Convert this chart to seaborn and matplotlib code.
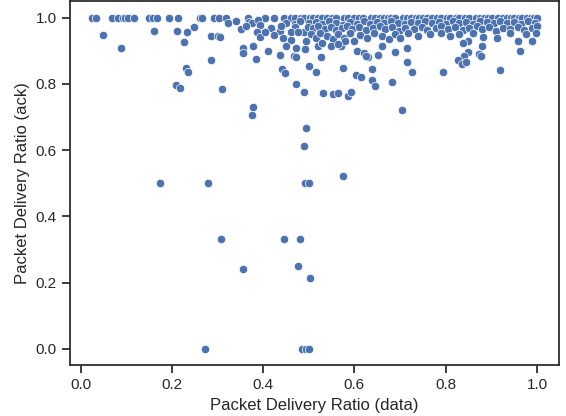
import pandas as pd
import seaborn as sns
import matplotlib.pyplot as plt

# Values (estimated)
# top row, ack ratio = 1.0
top_x = [0.026, 0.033, 0.068, 0.083, 0.092, 0.098, 0.105, 0.118, 0.151, 0.159,
         0.168, 0.194, 0.214, 0.262, 0.267, 0.293, 0.304, 0.318, 0.366, 0.405,
         0.423, 0.445, 0.461, 0.470, 0.484, 0.490, 0.502, 0.510, 0.520, 0.530,
         0.539, 0.550, 0.559, 0.577, 0.585, 0.600, 0.610, 0.619, 0.637, 0.645,
         0.655, 0.665, 0.673, 0.680, 0.690, 0.706, 0.715, 0.724, 0.735, 0.742,
         0.750, 0.758, 0.770, 0.782, 0.790, 0.803, 0.810, 0.822, 0.830, 0.842,
         0.850, 0.866, 0.875, 0.884, 0.893, 0.902, 0.915, 0.925, 0.935, 0.943,
         0.950, 0.960, 0.968, 0.978, 0.986, 0.993, 1.000]

# points below 1.0
low_x = [
    # ~0.98-0.99 band
    0.324, 0.340, 0.368, 0.376, 0.389, 0.451, 0.469, 0.480, 0.500, 0.515,
    0.530, 0.545, 0.560, 0.575, 0.590, 0.605, 0.620, 0.635, 0.650, 0.665,
    0.680, 0.695, 0.710, 0.725, 0.740, 0.755, 0.770, 0.785, 0.800, 0.815,
    0.830, 0.845, 0.860, 0.875, 0.890, 0.905, 0.920, 0.935, 0.950, 0.965,
    0.980, 0.995,
    # ~0.96-0.975 band
    0.351, 0.362, 0.394, 0.417, 0.437, 0.440, 0.470, 0.490, 0.498, 0.510,
    0.520, 0.535, 0.548, 0.560, 0.572, 0.583, 0.595, 0.610, 0.625, 0.640,
    0.655, 0.668, 0.682, 0.697, 0.710, 0.730, 0.748, 0.760, 0.778, 0.790,
    0.805, 0.820, 0.838, 0.852, 0.868, 0.880, 0.895, 0.910, 0.925, 0.940,
    0.958, 0.972, 0.988, 1.000,
    # ~0.93-0.955 band
    0.386, 0.393, 0.405, 0.424, 0.444, 0.462, 0.461, 0.477, 0.495, 0.505,
    0.515, 0.525, 0.540, 0.553, 0.565, 0.578, 0.590, 0.600, 0.612, 0.628,
    0.642, 0.660, 0.675, 0.690, 0.700, 0.718, 0.740, 0.765, 0.790, 0.810,
    0.830, 0.860, 0.881, 0.912, 0.940, 0.959, 0.975, 0.990, 0.998,
    # scattered 0.83-0.93
    0.357, 0.355, 0.378, 0.384, 0.410, 0.437, 0.473, 0.491, 0.468, 0.471,
    0.500, 0.526, 0.515, 0.520, 0.548, 0.570, 0.605, 0.622, 0.630, 0.626,
    0.651, 0.660, 0.689, 0.715, 0.715, 0.726, 0.848, 0.837, 0.879, 0.848,
    0.841, 0.827, 0.836, 0.844, 0.873, 0.877, 0.962, 0.919, 0.795, 0.580,
    0.450, 0.530, 0.565,
    # lower scatter
    0.575, 0.603, 0.615, 0.639, 0.639, 0.646, 0.683, 0.531, 0.553, 0.564,
    0.586, 0.592, 0.490, 0.473, 0.442, 0.449, 0.311, 0.285, 0.285, 0.302,
    0.306, 0.232, 0.235, 0.210, 0.217, 0.226, 0.249, 0.211, 0.233, 0.160,
    0.049, 0.089, 0.378, 0.375, 0.705, 0.493, 0.489,
    # outliers
    0.175, 0.279, 0.491, 0.500, 0.576, 0.308, 0.446, 0.481, 0.356, 0.477,
    0.503, 0.272, 0.485, 0.493, 0.500]

low_y = [
    0.984, 0.989, 0.988, 0.984, 0.994, 0.984, 0.981, 0.990, 0.985, 0.988,
    0.982, 0.990, 0.985, 0.978, 0.988, 0.982, 0.990, 0.980, 0.987, 0.983,
    0.990, 0.985, 0.980, 0.988, 0.984, 0.990, 0.985, 0.988, 0.982, 0.990,
    0.985, 0.988, 0.982, 0.990, 0.986, 0.983, 0.990, 0.985, 0.988, 0.982,
    0.990, 0.985,
    0.965, 0.974, 0.979, 0.969, 0.961, 0.975, 0.972, 0.958, 0.971, 0.968,
    0.975, 0.966, 0.972, 0.963, 0.970, 0.975, 0.967, 0.972, 0.963, 0.970,
    0.975, 0.966, 0.972, 0.960, 0.970, 0.965, 0.972, 0.962, 0.970, 0.975,
    0.965, 0.972, 0.962, 0.970, 0.975, 0.965, 0.972, 0.960, 0.970, 0.965,
    0.972, 0.962, 0.970, 0.975,
    0.956, 0.941, 0.958, 0.948, 0.939, 0.956, 0.933, 0.956, 0.931, 0.950,
    0.940, 0.955, 0.945, 0.935, 0.952, 0.940, 0.955, 0.930, 0.948, 0.940,
    0.955, 0.945, 0.935, 0.950, 0.940, 0.955, 0.945, 0.950, 0.955, 0.945,
    0.950, 0.955, 0.941, 0.938, 0.955, 0.931, 0.950, 0.931, 0.955,
    0.908, 0.893, 0.916, 0.876, 0.900, 0.889, 0.908, 0.906, 0.886, 0.881,
    0.855, 0.881, 0.837, 0.916, 0.916, 0.915, 0.899, 0.893, 0.881, 0.886,
    0.889, 0.916, 0.898, 0.909, 0.867, 0.837, 0.931, 0.923, 0.914, 0.896,
    0.886, 0.873, 0.860, 0.866, 0.891, 0.886, 0.899, 0.841, 0.837, 0.930,
    0.915, 0.925, 0.920,
    0.848, 0.828, 0.822, 0.845, 0.813, 0.795, 0.806, 0.773, 0.770, 0.772,
    0.763, 0.777, 0.777, 0.800, 0.845, 0.833, 0.784, 0.872, 0.944, 0.944,
    0.943, 0.847, 0.835, 0.797, 0.789, 0.928, 0.973, 0.961, 0.958, 0.959,
    0.949, 0.908, 0.730, 0.706, 0.720, 0.666, 0.612,
    0.500, 0.500, 0.500, 0.500, 0.523, 0.333, 0.333, 0.333, 0.242, 0.250,
    0.214, 0.000, 0.000, 0.000, 0.000]

df = pd.DataFrame({
    'Packet Delivery Ratio (data)': top_x + low_x,
    'Packet Delivery Ratio (ack)': [1.0] * len(top_x) + low_y,
})

sns.set_theme(style="ticks")
plt.rcParams['font.family'] = ['Liberation Sans', 'DejaVu Sans']

fig, ax = plt.subplots(figsize=(5.66, 4.16), dpi=100)
sns.scatterplot(data=df, x='Packet Delivery Ratio (data)', y='Packet Delivery Ratio (ack)', ax=ax)
ax.set_xticks([0.0, 0.2, 0.4, 0.6, 0.8, 1.0])
ax.set_yticks([0.0, 0.2, 0.4, 0.6, 0.8, 1.0])

plt.subplots_adjust(left=0.124, right=0.988, top=0.997, bottom=0.122)
plt.savefig("out.png", dpi=100)
